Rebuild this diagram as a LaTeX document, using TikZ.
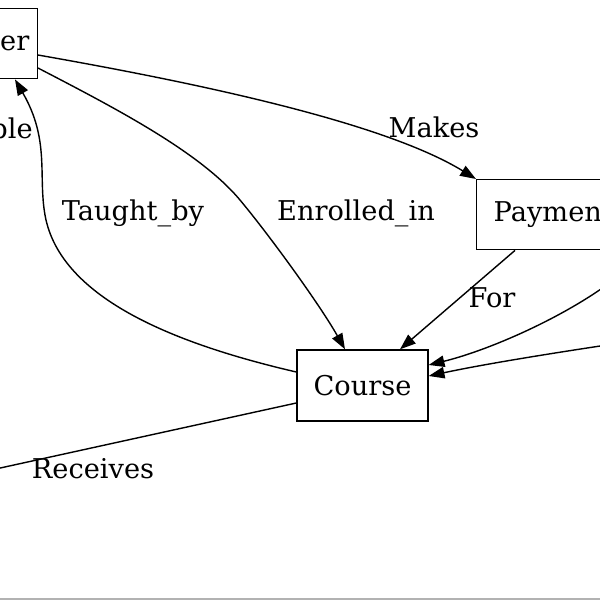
\documentclass[tikz,border=0pt]{standalone}
\usepackage{fontspec}
\setmainfont{DejaVu Serif}
\usetikzlibrary{arrows.meta}

\begin{document}
\begin{tikzpicture}[x=0.02cm,y=-0.02cm,
		box/.style={draw,line width=0.8pt,minimum height=1.4cm,inner ysep=0pt},
		rel/.style={line width=0.8pt,-{Triangle[length=9pt,width=6.5pt]}},
		lbl/.style={inner sep=0pt},
		font=\fontsize{15.5}{18}\selectfont]
	\useasboundingbox (0,0) rectangle (600,600);
	\clip (0,0) rectangle (600,600);
	% entity boxes
	\node[box,anchor=north east,text width=1.6cm,align=right,inner xsep=0.16cm] (usr) at (38,8) {er};
	\node[box,anchor=north west,text width=3cm,align=left,inner xsep=0.34cm] (pay) at (476,179) {Paymen};
	\node[box,minimum width=2.62cm,minimum height=1.42cm] (course) at (362.5,385.5) {Course};
	\coordinate (offl) at (-100,490);
	\coordinate (offr1) at (620,275);
	\coordinate (offr2) at (620,343);
	% relations
	\draw[rel] (usr.east |- 0,55) .. controls (180,80) and (380,120) .. (pay.north west);
	\draw[rel] (usr.east |- 0,68) .. controls (115,108) and (200,152) .. (240,200) .. controls (270,236) and (320,305) .. (course.north -| 345,0);
	\draw[rel] (course.west |- 0,372) .. controls (180,345) and (60,300) .. (45,215) .. controls (38,175) and (50,140) .. (usr.south -| 15,0);
	\draw[rel] (pay.south -| 515,0) -- (course.north -| 400,0);
	\draw[rel] (offr1) .. controls (570,315) and (490,350) .. (course.east |- 0,365);
	\draw[rel] (offr2) .. controls (540,355) and (480,365) .. (course.east |- 0,376);
	\draw[line width=0.8pt] (course.west |- 0,403) -- (offl);
	% labels
	\node[lbl,anchor=east] (l1) at (33,128) {ble};
	\node[lbl] (l2) at (434,127) {Makes};
	\node[lbl] (l3) at (356,213) {Enrolled\_in};
	\node[lbl] (l4) at (133,213) {Taught\_by};
	\node[lbl] (l5) at (492,298) {For};
	\node[lbl] (l6) at (93,469) {Receives};
	\draw[black!30,line width=1pt] (0,599) -- (600,599);
\end{tikzpicture}
\end{document}
